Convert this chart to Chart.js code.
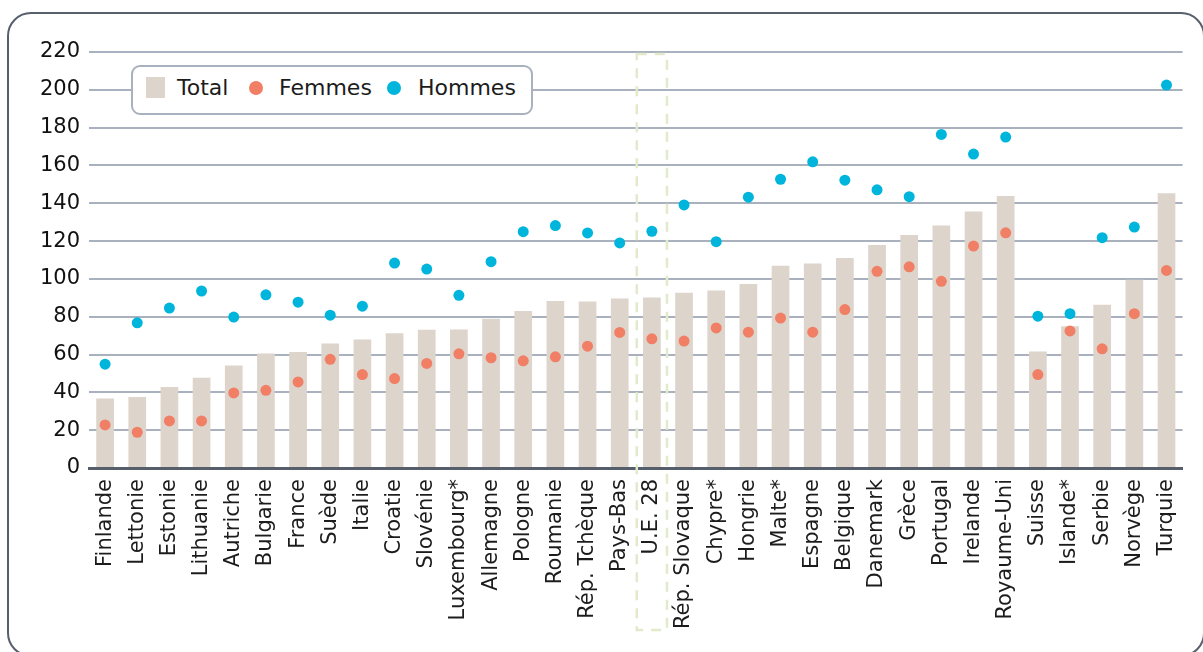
<!DOCTYPE html>
<html>
<head>
<meta charset="utf-8">
<script src="https://cdn.jsdelivr.net/npm/chart.js@4.4.1/dist/chart.umd.min.js"></script>
<style>
    body { margin: 0; background: #fff; font-family: "DejaVu Sans", sans-serif; }
    #wrap { position: relative; width: 1203px; height: 652px; overflow: hidden; }
    #frame {
        position: absolute; left: 7px; top: 12px; width: 1198px; height: 645px;
        border: 2.5px solid #575e6c; border-radius: 24px; box-sizing: border-box;
    }
    #legend {
        position: absolute; left: 131px; top: 65px; width: 402px; height: 50px;
        box-sizing: border-box; border: 2px solid #a9b1bf; border-radius: 9px; background: #fff;
    }
    .lg { position: absolute; }
    .lg.sq { left: 146px; top: 77px; width: 19px; height: 21px; background: #ddd4cb; }
    .lg.dot { top: 81px; width: 14px; height: 14px; border-radius: 50%; }
    .lg.txt { top: 77px; font-size: 22px; line-height: 22px; color: #1c1c1c; white-space: nowrap; }
    canvas { position: absolute; left: 0; top: 0; }
</style>
</head>
<body>
<div id="wrap">
    <canvas id="myChart" width="1203" height="652"></canvas>
    <div id="frame"></div>
    <div id="legend"></div>
    <div class="lg sq"></div>
    <div class="lg txt" style="left:177px">Total</div>
    <div class="lg dot" style="left:249px;background:#f07f65"></div>
    <div class="lg txt" style="left:279px">Femmes</div>
    <div class="lg dot" style="left:387px;background:#00b5dc"></div>
    <div class="lg txt" style="left:418px">Hommes</div>
</div>
<script>
//---------- Données ----------
var pays = ["Finlande", "Lettonie", "Estonie", "Lithuanie", "Autriche", "Bulgarie", "France", "Suède",
    "Italie", "Croatie", "Slovénie", "Luxembourg*", "Allemagne", "Pologne", "Roumanie", "Rép. Tchèque",
    "Pays-Bas", "U.E. 28", "Rép. Slovaque", "Chypre*", "Hongrie", "Malte*", "Espagne", "Belgique",
    "Danemark", "Grèce", "Portugal", "Irelande", "Royaume-Uni", "Suisse", "Islande*", "Serbie",
    "Norvège", "Turquie"];
var total = [36.7, 37.6, 42.9, 47.7, 54.2, 60.5, 61.4, 65.8, 68.0, 71.3, 73.1, 73.3, 78.9, 83.0, 88.3, 88.1,
    89.7, 90.2, 92.7, 93.9, 97.3, 107.0, 108.2, 111.0, 117.9, 123.2, 128.2, 135.7, 143.9, 61.6, 75.0, 86.3,
    99.6, 145.3];
var femmes = [22.8, 18.9, 24.9, 24.9, 39.7, 41.1, 45.5, 57.5, 49.4, 47.3, 55.3, 60.4, 58.3, 56.7, 58.8, 64.4,
    71.7, 68.3, 67.1, 74.1, 71.8, 79.3, 71.8, 83.8, 104.0, 106.4, 98.7, 117.4, 124.4, 49.4, 72.5, 63.0,
    81.6, 104.5];
var hommes = [54.9, 76.8, 84.6, 93.6, 79.8, 91.6, 87.7, 80.8, 85.6, 108.4, 105.2, 91.3, 109.1, 125.0, 128.2, 124.3,
    119.0, 125.2, 139.1, 119.7, 143.2, 152.7, 161.9, 152.2, 147.1, 143.5, 176.4, 166.0, 175.0, 80.3, 81.6, 121.8,
    127.4, 202.5];
var yTicks = [0, 20, 40, 60, 80, 100, 120, 140, 160, 180, 200, 220];
var encadre = "U.E. 28"; // colonne mise en évidence

//---------- Plugin : cadre pointillé autour de l'UE ----------
var cadrePlugin = {
    id: 'cadreUE',
    afterDatasetsDraw: function (chart) {
        var ctx = chart.ctx;
        var xs = chart.scales.x;
        var idx = pays.indexOf(encadre);
        var cx = xs.getPixelForValue(idx);
        var half = xs.width / pays.length / 2 - 1;
        ctx.save();
        ctx.strokeStyle = '#e1eacb';
        ctx.lineWidth = 2.5;
        ctx.setLineDash([10, 8]);
        ctx.strokeRect(cx - half, 54, half * 2, 576);
        ctx.restore();
    }
};

function BuildChart() {
    var ctx = document.getElementById("myChart").getContext('2d');
    var myChart = new Chart(ctx, {
        type: 'bar',
        data: {
            labels: pays,
            datasets: [{
                type: 'line',
                label: 'Hommes',
                data: hommes,
                showLine: false,
                pointRadius: 5.5,
                pointBackgroundColor: '#00b5dc',
                pointBorderWidth: 0,
                order: 1
            }, {
                type: 'line',
                label: 'Femmes',
                data: femmes,
                showLine: false,
                pointRadius: 5.5,
                pointBackgroundColor: '#f07f65',
                pointBorderWidth: 0,
                order: 2
            }, {
                label: 'Total',
                data: total,
                backgroundColor: '#ddd4cb',
                categoryPercentage: 1,
                barPercentage: 0.55,
                order: 3
            }]
        },
        options: {
            responsive: false,
            animation: false,
            layout: { padding: { left: 0, right: 20, top: 52, bottom: 0 } },
            plugins: {
                legend: { display: false },
                tooltip: { enabled: false }
            },
            scales: {
                x: {
                    grid: { display: false, drawTicks: false },
                    border: { display: true, color: '#565d6b', width: 3 },
                    ticks: {
                        autoSkip: false,
                        maxRotation: 90,
                        minRotation: 90,
                        padding: 11,
                        color: '#1c1c1c',
                        font: { family: 'DejaVu Sans', size: 21 }
                    },
                    afterFit: function (scale) { scale.height = 184; }
                },
                y: {
                    min: 0,
                    max: 220,
                    afterBuildTicks: function (scale) {
                        scale.ticks = yTicks.map(function (v) { return { value: v }; });
                    },
                    grid: { color: '#aab1be', lineWidth: 2, drawTicks: false },
                    border: { display: false },
                    ticks: {
                        padding: 9,
                        color: '#111111',
                        font: { family: 'DejaVu Sans', size: 21 }
                    },
                    afterFit: function (scale) { scale.width = 89; }
                }
            }
        },
        plugins: [cadrePlugin]
    });
    return myChart;
}

BuildChart();
</script>
</body>
</html>
